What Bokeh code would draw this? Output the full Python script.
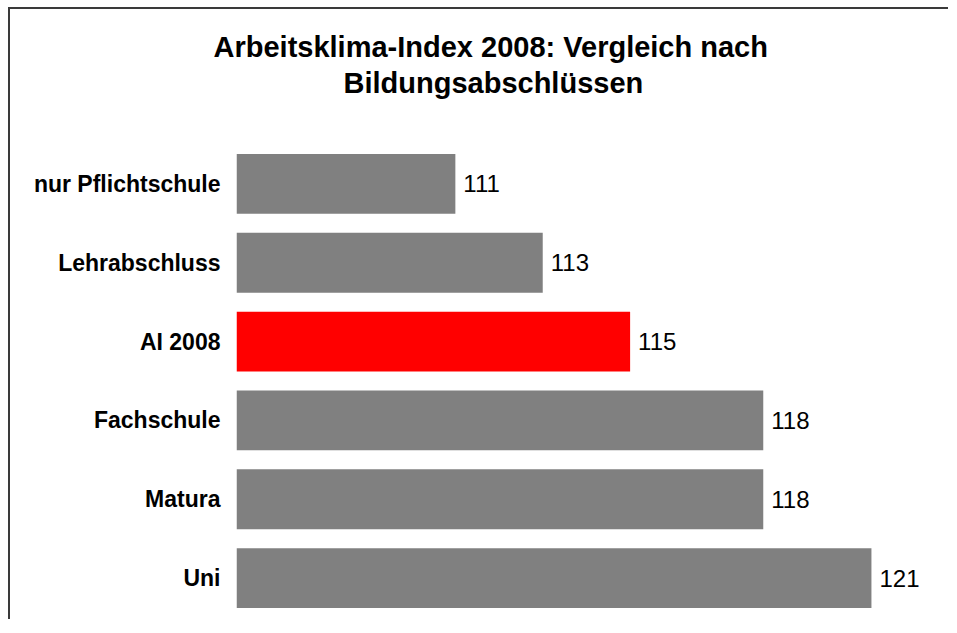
from bokeh.plotting import figure
from bokeh.models import ColumnDataSource, Range1d, Title
from bokeh.core.properties import value
from bokeh.embed import file_html
from bokeh.resources import INLINE

# data
categories = ["nur Pflichtschule", "Lehrabschluss", "AI 2008", "Fachschule", "Matura", "Uni"]
index_values = [111.0, 113.1, 115.2, 118.4, 118.4, 121.0]
bar_colors = ["#808080", "#808080", "#FF0000", "#808080", "#808080", "#808080"]
title_lines = ["Arbeitsklima-Index 2008: Vergleich nach", "Bildungsabschlüssen"]

labels = ["%d" % round(v) for v in index_values]
src = ColumnDataSource(dict(cat=categories, val=index_values, col=bar_colors, lab=labels))

FONT = "Liberation Sans"
X0 = 105.74

p = figure(
    width=940, height=612,
    y_range=list(reversed(categories)),
    x_range=Range1d(X0, 122.9),
    output_backend="svg", toolbar_location=None,
    min_border_left=226, min_border_right=0, min_border_top=135, min_border_bottom=4,
    styles={"border-left": "2px solid #3a3a3a", "border-top": "2px solid #3a3a3a",
            "margin-left": "8px", "margin-top": "7px"},
)
p.outline_line_color = None
p.xgrid.visible = False
p.ygrid.visible = False
p.xaxis.visible = False

p.hbar(y="cat", right="val", left=X0, height=0.76, color="col", line_color=None, source=src)
p.text(x="val", y="cat", text="lab", source=src, x_offset=8, text_baseline="middle",
       text_align="left", text_font=value(FONT), text_font_size="24px", text_color="black")

ya = p.yaxis[0]
ya.axis_line_color = None
ya.major_tick_line_color = None
ya.minor_tick_line_color = None
ya.major_tick_out = 0
ya.major_tick_in = 0
ya.major_label_standoff = 16
ya.major_label_text_font = FONT
ya.major_label_text_font_size = "23px"
ya.major_label_text_font_style = "bold"
ya.major_label_text_color = "black"

# spacer between plot and title, then title lines (closest to plot first)
p.add_layout(Title(text=" ", text_font_size="1px", standoff=43), "above")
p.add_layout(Title(text=title_lines[1], align="left", offset=107, standoff=0,
                   text_font=FONT, text_font_size="29px", text_font_style="bold",
                   text_color="black"), "above")
p.add_layout(Title(text=title_lines[0], align="left", offset=-23, standoff=3,
                   text_font=FONT, text_font_size="29px", text_font_style="bold",
                   text_color="black"), "above")

open("out.html", "w").write(file_html(p, INLINE))
